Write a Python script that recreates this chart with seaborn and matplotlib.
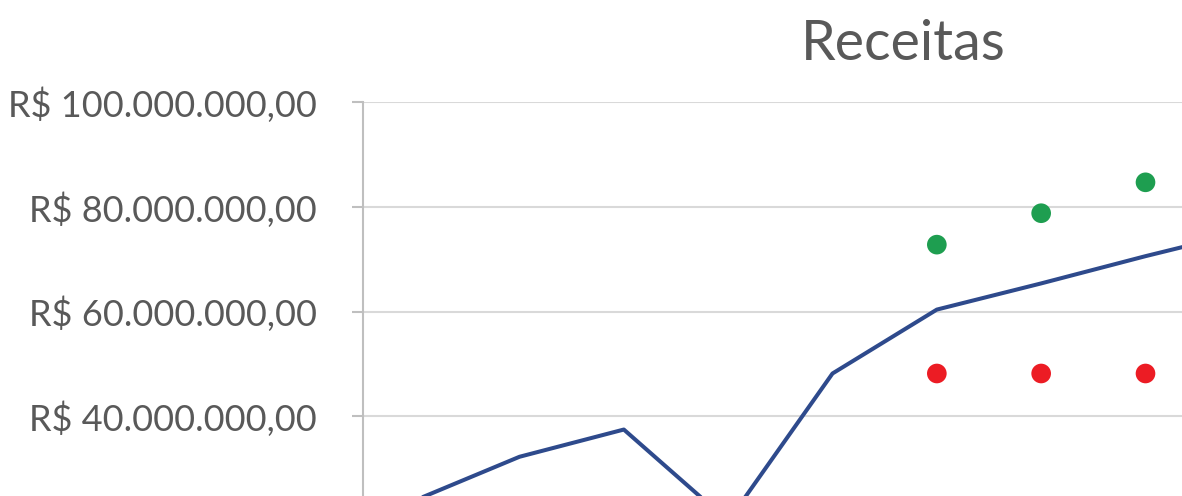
import pandas as pd
import matplotlib.pyplot as plt
import seaborn as sns
from matplotlib.ticker import FuncFormatter

# Receita anual (em milhões de R$)
anos = ["2013", "2014", "2015", "2016", "2017", "2018", "2019", "2020", "2021"]
receita = [24.0, 32.3, 37.5, 20.0, 48.2, 60.4, 65.4, 70.6, 75.5]

# Cenários projetados
anos_cenario = ["2018", "2019", "2020"]
otimista = [72.8, 78.8, 84.7]
pessimista = [48.2, 48.2, 48.2]

# eixo visível no recorte (milhões)
ticks_y = [40, 60, 80, 100]

pos = {a: i for i, a in enumerate(anos)}
df = pd.DataFrame({"pos": [pos[a] for a in anos], "receita": [v * 1e6 for v in receita]})
df_cen = pd.DataFrame({
    "pos": [pos[a] for a in anos_cenario],
    "otimista": [v * 1e6 for v in otimista],
    "pessimista": [v * 1e6 for v in pessimista],
})

sns.set_style("white")
plt.rcParams["font.family"] = ["Lato", "DejaVu Sans"]

cinza = "#595959"
fig = plt.figure(figsize=(11.82, 4.96), dpi=100)
# the chart in the reference is cropped: plot area runs past the bottom and right edges
ax = fig.add_axes([363 / 1182, -0.262, 939 / 1182, 1.056])

sns.lineplot(data=df, x="pos", y="receita", color="#2E4A8C", linewidth=2.9, ax=ax)
sns.scatterplot(data=df_cen, x="pos", y="otimista", color="#1E9E50", s=200,
                edgecolor="none", ax=ax, zorder=3)
sns.scatterplot(data=df_cen, x="pos", y="pessimista", color="#EC1C24", s=200,
                edgecolor="none", ax=ax, zorder=3)

ax.set_xlim(-0.5, len(anos) - 0.5)
ax.set_ylim(0, 100e6)
ax.set_yticks([v * 1e6 for v in ticks_y])
ax.set_xticks(range(len(anos)))
ax.set_xticklabels(anos)


def brl(v, _):
    s = f"{v:,.2f}".replace(",", "X").replace(".", ",").replace("X", ".")
    return f"R$ {s}"


ax.yaxis.set_major_formatter(FuncFormatter(brl))
ax.grid(axis="y", color="#D9D9D9", linewidth=1.5)
ax.set_axisbelow(True)
for side in ["top", "right", "bottom"]:
    ax.spines[side].set_visible(False)
ax.spines["left"].set_color("#BFBFBF")
ax.spines["left"].set_linewidth(1.5)
ax.tick_params(axis="y", length=8, width=1.5, color="#BFBFBF", pad=25,
               labelsize=26, labelcolor=cinza, left=True)
# year labels sit below the cropped edge in the reference
ax.tick_params(axis="x", bottom=False, labelbottom=False)
ax.set_xlabel("")
ax.set_ylabel("")

fig.text(903 / 1182, (496 - 45) / 496, "Receitas", ha="center", va="center",
         fontsize=40, color=cinza)

fig.savefig("out.png", dpi=100)
